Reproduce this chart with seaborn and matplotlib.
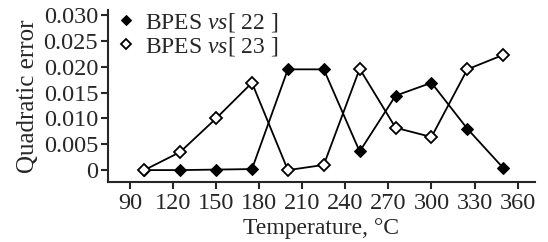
import pandas as pd
import numpy as np
import matplotlib
matplotlib.use("Agg")
import matplotlib.pyplot as plt
import seaborn as sns

# data
temperature = [100, 125, 150, 175, 200, 225, 250, 275, 300, 325, 350]
err_22 = [0.0, 0.0, 0.0001, 0.0002, 0.0195, 0.0195, 0.0036, 0.0144, 0.0169, 0.0080, 0.0004]
err_23 = [0.0, 0.0035, 0.0100, 0.0169, 0.0, 0.0010, 0.0196, 0.0082, 0.0064, 0.0195, 0.0223]
label_22 = r"BPES $\mathit{vs}$[ 22 ]"
label_23 = r"BPES $\mathit{vs}$[ 23 ]"
xticks = [90, 120, 150, 180, 210, 240, 270, 300, 330, 360]
yticks = [0, 0.005, 0.010, 0.015, 0.020, 0.025, 0.030]
yticklabels = ["0", "0.005", "0.010", "0.015", "0.020", "0.025", "0.030"]

sns.set_style("ticks")
plt.rcParams["font.family"] = ["Liberation Serif", "DejaVu Serif"]
plt.rcParams["mathtext.fontset"] = "custom"
plt.rcParams["mathtext.it"] = "Liberation Serif:italic"
plt.rcParams["mathtext.rm"] = "Liberation Serif"

df = pd.DataFrame({"T": temperature, "e22": err_22, "e23": err_23})

fig = plt.figure(figsize=(5.48, 2.42), dpi=100)
ax = fig.add_axes([0.197, 0.248, 0.779, 0.711])

sns.lineplot(data=df, x="T", y="e22", ax=ax, color="black", lw=1.3,
             marker="D", markersize=6, markerfacecolor="black",
             markeredgecolor="black", label=label_22)
sns.lineplot(data=df, x="T", y="e23", ax=ax, color="black", lw=1.3,
             marker="D", markersize=6, markerfacecolor="white",
             markeredgecolor="black", markeredgewidth=1.3, label=label_23)

ax.set_xlim(74.7, 372)
ax.set_ylim(-0.0023, 0.031)
ax.set_xticks(xticks)
ax.set_yticks(yticks)
ax.set_yticklabels(yticklabels)
ax.tick_params(labelsize=17.5, width=1.5, length=5, direction="out", pad=2)
ax.tick_params(axis="x", pad=3)
for s in ["left", "bottom"]:
    ax.spines[s].set_linewidth(1.5)
sns.despine(ax=ax)

ax.set_xlabel("Temperature, °C", fontsize=17, labelpad=3)
ax.set_ylabel("Quadratic error", fontsize=18, labelpad=3)

leg = ax.legend(loc="upper left", bbox_to_anchor=(0.02, 1.05), frameon=False,
                fontsize=17, handlelength=0, handletextpad=0.8,
                labelspacing=0.05, borderaxespad=0, markerscale=0.8)

fig.savefig("out.png", dpi=100)
